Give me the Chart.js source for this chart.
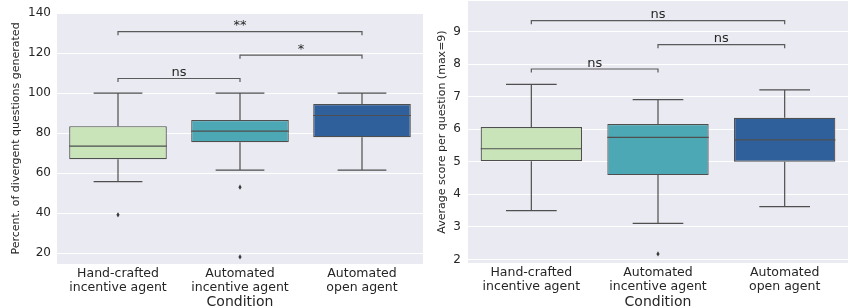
<!DOCTYPE html>
<html>
<head>
<meta charset="utf-8">
<script src="https://cdn.jsdelivr.net/npm/chart.js@4.4.1/dist/chart.umd.min.js"></script>
<style>
  html, body { margin: 0; padding: 0; background: #ffffff; }
  #wrap { position: relative; width: 855px; height: 308px; }
  .panel { position: absolute; top: 0; height: 308px; }
</style>
</head>
<body>
<div id="wrap">
  <div class="panel" style="left:0px;width:430px;"><canvas id="c1" width="430" height="308"></canvas></div>
  <div class="panel" style="left:430px;width:425px;"><canvas id="c2" width="425" height="308"></canvas></div>
</div>
<script>
// ---------- data ----------
const categories = [["Hand-crafted", "incentive agent"], ["Automated", "incentive agent"], ["Automated", "open agent"]];
const boxColors = ["#c8e4b8", "#4ca8b4", "#2f609b"];

// Left panel: percentage of divergent questions generated
const divQ1 = [67.0, 75.5, 78.0];
const divQ3 = [83.5, 86.6, 94.5];
const divMedian = [73.5, 81.0, 88.8];
const divWhiskerLow = [55.8, 61.5, 61.5];
const divWhiskerHigh = [100, 100, 100];
const divOutliers = [[39.2], [53.0, 18.2], []];
const divTicks = [20, 40, 60, 80, 100, 120, 140];
const divBracketFrom = [0, 1, 0];
const divBracketTo = [1, 2, 2];
const divBracketY = [107.3, 119.0, 130.7];
const divBracketLabel = ["ns", "*", "**"];

// Right panel: average score per question
const scoreQ1 = [5.02, 4.59, 5.00];
const scoreQ3 = [6.07, 6.16, 6.35];
const scoreMedian = [5.40, 5.75, 5.67];
const scoreWhiskerLow = [3.50, 3.11, 3.62];
const scoreWhiskerHigh = [7.38, 6.91, 7.21];
const scoreOutliers = [[], [2.17], []];
const scoreTicks = [2, 3, 4, 5, 6, 7, 8, 9];
const scoreBracketFrom = [0, 1, 0];
const scoreBracketTo = [1, 2, 2];
const scoreBracketY = [7.85, 8.60, 9.34];
const scoreBracketLabel = ["ns", "ns", "ns"];

// ---------- styling ----------
const FONT = "'DejaVu Sans', sans-serif";
const TEXT = "#262626";
const EDGE = "#4f4f4f";
const BG = "#eaeaf2";

const bgPlugin = {
  id: "bgPlugin",
  beforeDraw(chart) {
    const a = chart.chartArea, ctx = chart.ctx;
    ctx.save();
    ctx.fillStyle = BG;
    ctx.fillRect(a.left, a.top, a.right - a.left, a.bottom - a.top);
    ctx.restore();
  }
};

function boxPlugin(stats) {
  return {
    id: "boxPlugin",
    beforeDatasetsDraw(chart) {
      const ctx = chart.ctx, xs = chart.scales.x, ys = chart.scales.y;
      const meta = chart.getDatasetMeta(0);
      ctx.save();
      ctx.strokeStyle = EDGE;
      ctx.lineWidth = 1.2;
      stats.q1.forEach((q, i) => {
        const bar = meta.data[i];
        const cx = xs.getPixelForValue(i);
        const half = bar.width / 4;
        const yLo = ys.getPixelForValue(stats.lo[i]);
        const yHi = ys.getPixelForValue(stats.hi[i]);
        const yQ1 = ys.getPixelForValue(stats.q1[i]);
        const yQ3 = ys.getPixelForValue(stats.q3[i]);
        ctx.beginPath();
        ctx.moveTo(cx, yQ3); ctx.lineTo(cx, yHi);
        ctx.moveTo(cx - half, yHi); ctx.lineTo(cx + half, yHi);
        ctx.moveTo(cx, yQ1); ctx.lineTo(cx, yLo);
        ctx.moveTo(cx - half, yLo); ctx.lineTo(cx + half, yLo);
        ctx.stroke();
      });
      ctx.restore();
    },
    afterDatasetsDraw(chart) {
      const ctx = chart.ctx, xs = chart.scales.x, ys = chart.scales.y;
      const meta = chart.getDatasetMeta(0);
      ctx.save();
      ctx.strokeStyle = EDGE;
      ctx.lineWidth = 1.2;
      // medians
      stats.med.forEach((m, i) => {
        const bar = meta.data[i];
        const ym = ys.getPixelForValue(m);
        ctx.beginPath();
        ctx.moveTo(bar.x - bar.width / 2, ym);
        ctx.lineTo(bar.x + bar.width / 2, ym);
        ctx.stroke();
      });
      // outliers (diamonds)
      ctx.fillStyle = "#3a3a3a";
      stats.out.forEach((arr, i) => {
        const cx = xs.getPixelForValue(i);
        arr.forEach(v => {
          const y = ys.getPixelForValue(v);
          ctx.beginPath();
          ctx.moveTo(cx, y - 2.6); ctx.lineTo(cx + 1.6, y);
          ctx.lineTo(cx, y + 2.6); ctx.lineTo(cx - 1.6, y);
          ctx.closePath();
          ctx.fill();
        });
      });
      // significance brackets
      ctx.strokeStyle = "#5a5a5a";
      ctx.lineWidth = 1.2;
      ctx.fillStyle = TEXT;
      ctx.font = "13px " + FONT;
      ctx.textAlign = "center";
      ctx.textBaseline = "alphabetic";
      stats.bFrom.forEach((f, k) => {
        const x1 = xs.getPixelForValue(f);
        const x2 = xs.getPixelForValue(stats.bTo[k]);
        const y = ys.getPixelForValue(stats.bY[k]);
        ctx.beginPath();
        ctx.moveTo(x1, y + 3.6); ctx.lineTo(x1, y);
        ctx.lineTo(x2, y); ctx.lineTo(x2, y + 3.6);
        ctx.stroke();
        ctx.fillText(stats.bLabel[k], (x1 + x2) / 2, y - 2.5);
      });
      ctx.restore();
    }
  };
}

function makeChart(id, cfg) {
  const data = categories.map((_, i) => [cfg.q1[i], cfg.q3[i]]);
  return new Chart(document.getElementById(id), {
    type: "bar",
    data: {
      labels: categories,
      datasets: [{
        data: data,
        backgroundColor: boxColors,
        borderColor: EDGE,
        borderWidth: 1.2,
        borderSkipped: false,
        barPercentage: 0.8,
        categoryPercentage: 1.0
      }]
    },
    options: {
      responsive: false,
      animation: false,
      events: [],
      layout: { padding: { left: 0, right: cfg.padRight, top: cfg.padTop, bottom: 0 } },
      plugins: { legend: { display: false }, tooltip: { enabled: false } },
      scales: {
        x: {
          type: "category",
          grid: { display: false, drawTicks: false },
          border: { display: false },
          ticks: { color: TEXT, font: { family: FONT, size: 12.5, lineHeight: 1.08 }, padding: 3, maxRotation: 0, autoSkip: false },
          title: { display: true, text: "Condition", color: TEXT, font: { family: FONT, size: 14, lineHeight: 0.8 }, padding: { top: 0, bottom: 0 } },
          afterFit(s) { s.height = cfg.xHeight; s.paddingLeft = 0; s.paddingRight = 0; }
        },
        y: {
          min: cfg.min, max: cfg.max,
          grid: { color: "#ffffff", lineWidth: 1, drawTicks: false },
          border: { display: false },
          ticks: { color: TEXT, font: { family: FONT, size: 12 }, padding: cfg.tickPad },
          afterBuildTicks(s) { s.ticks = cfg.ticks.map(v => ({ value: v })); },
          title: { display: true, text: cfg.yTitle, color: TEXT, font: { family: FONT, size: 11 }, padding: { top: cfg.titlePad, bottom: 0 } },
          afterFit(s) { s.width = cfg.yWidth; s.paddingTop = 0; s.paddingBottom = 0; }
        }
      }
    },
    plugins: [bgPlugin, boxPlugin({
      q1: cfg.q1, q3: cfg.q3, med: cfg.med, lo: cfg.lo, hi: cfg.hi, out: cfg.out,
      bFrom: cfg.bFrom, bTo: cfg.bTo, bY: cfg.bY, bLabel: cfg.bLabel
    })]
  });
}

makeChart("c1", {
  q1: divQ1, q3: divQ3, med: divMedian, lo: divWhiskerLow, hi: divWhiskerHigh, out: divOutliers,
  ticks: divTicks, min: 14.65, max: 140,
  bFrom: divBracketFrom, bTo: divBracketTo, bY: divBracketY, bLabel: divBracketLabel,
  yTitle: "Percent. of divergent questions generated",
  padRight: 7, padTop: 13, xHeight: 44, yWidth: 57, tickPad: 6, titlePad: 10
});

makeChart("c2", {
  q1: scoreQ1, q3: scoreQ3, med: scoreMedian, lo: scoreWhiskerLow, hi: scoreWhiskerHigh, out: scoreOutliers,
  ticks: scoreTicks, min: 1.89, max: 9.94,
  bFrom: scoreBracketFrom, bTo: scoreBracketTo, bY: scoreBracketY, bLabel: scoreBracketLabel,
  yTitle: "Average score per question (max=9)",
  padRight: 7, padTop: 1, xHeight: 45, yWidth: 38, tickPad: 7, titlePad: 6
});
</script>
</body>
</html>
